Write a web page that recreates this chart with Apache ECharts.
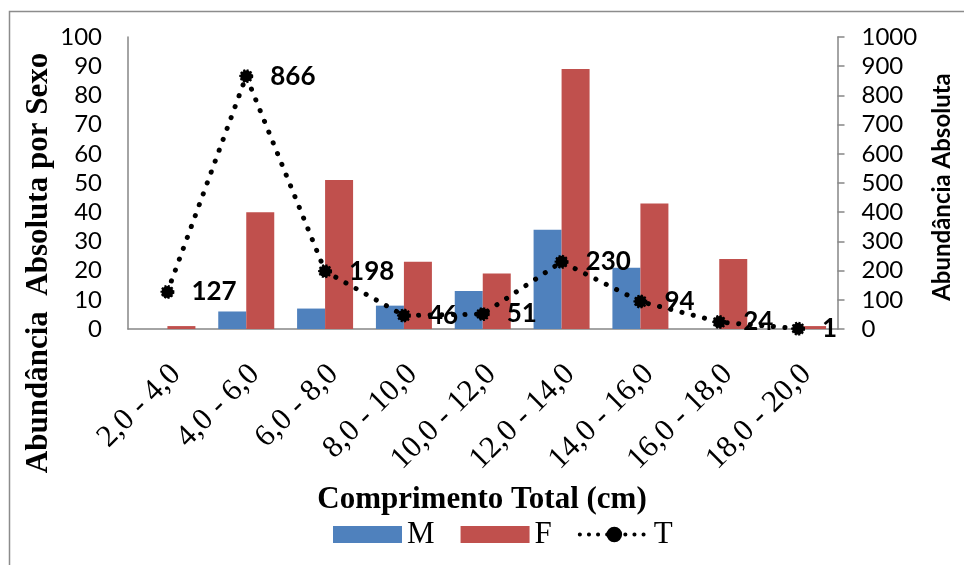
<!DOCTYPE html>
<html>
<head>
<meta charset="utf-8">
<script src="https://cdn.jsdelivr.net/npm/echarts@6/dist/echarts.min.js"></script>
<style>
  html, body { margin: 0; padding: 0; background: #fff; }
  #chart { width: 964px; height: 565px; }
</style>
</head>
<body>
<div id="chart"></div>
<script>
// Length classes (cm)
const categories = ['2,0 - 4,0', '4,0 - 6,0', '6,0 - 8,0', '8,0 - 10,0', '10,0 - 12,0',
                    '12,0 - 14,0', '14,0 - 16,0', '16,0 - 18,0', '18,0 - 20,0'];
// Absolute abundance by sex (left axis)
const machos = [0, 6, 7, 8, 13, 34, 21, 0, 0];
const femeas = [1, 40, 51, 23, 19, 89, 43, 24, 1];
// Total absolute abundance (right axis)
const total = [127, 866, 198, 46, 51, 230, 94, 24, 1];
// Axis tick values
const leftTicks = [0, 10, 20, 30, 40, 50, 60, 70, 80, 90, 100];
const rightTicks = [0, 100, 200, 300, 400, 500, 600, 700, 800, 900, 1000];

const serif = '"Liberation Serif", "Times New Roman", serif';
const sans = 'Lato, "Liberation Sans", sans-serif';
const axisGray = '#868686';
const dotted = { color: '#000', width: 5, type: [0.1, 11.5], cap: 'round' };

const chart = echarts.init(document.getElementById('chart'), null, { renderer: 'canvas' });

chart.setOption({
  backgroundColor: '#fff',
  animation: false,
  grid: { left: 128, right: 126.5, top: 37, bottom: 236, containLabel: false },
  legend: {
    left: 328,
    top: 514,
    itemWidth: 69,
    itemHeight: 17,
    itemGap: 26,
    textStyle: { fontFamily: serif, fontSize: 31, color: '#000' },
    data: [
      { name: 'M', icon: 'rect' },
      { name: 'F', icon: 'rect' },
      { name: 'T', lineStyle: { color: '#000', width: 4, type: [0.1, 9], cap: 'round' } }
    ]
  },
  xAxis: {
    type: 'category',
    data: categories,
    axisLine: { show: true, lineStyle: { color: axisGray, width: 1.5 } },
    axisTick: { show: false },
    axisLabel: {
      interval: 0,
      rotate: 45,
      margin: 32,
      verticalAlign: 'top',
      lineHeight: 24,
      fontFamily: serif,
      fontSize: 31,
      color: '#000'
    }
  },
  yAxis: [
    {
      type: 'value',
      min: leftTicks[0],
      max: leftTicks[leftTicks.length - 1],
      interval: leftTicks[1] - leftTicks[0],
      splitLine: { show: false },
      axisLine: { show: true, lineStyle: { color: axisGray, width: 1.5 } },
      axisTick: { show: false },
      axisLabel: { margin: 26, fontFamily: sans, fontSize: 24, color: '#000', formatter: v => String(v) }
    },
    {
      type: 'value',
      position: 'right',
      min: rightTicks[0],
      max: rightTicks[rightTicks.length - 1],
      interval: rightTicks[1] - rightTicks[0],
      splitLine: { show: false },
      axisLine: { show: true, lineStyle: { color: axisGray, width: 1.5 } },
      axisTick: { show: true, length: 7, lineStyle: { color: axisGray, width: 1.5 } },
      axisLabel: { margin: 24, fontFamily: sans, fontSize: 24, color: '#000', formatter: v => String(v) }
    }
  ],
  series: [
    {
      name: 'M',
      type: 'bar',
      yAxisIndex: 0,
      data: machos,
      barWidth: 28,
      barGap: '0%',
      itemStyle: { color: '#4F81BD' }
    },
    {
      name: 'F',
      type: 'bar',
      yAxisIndex: 0,
      data: femeas,
      barWidth: 28,
      barGap: '0%',
      itemStyle: { color: '#C0504D' }
    },
    {
      name: 'T',
      type: 'line',
      yAxisIndex: 1,
      data: total,
      z: 5,
      symbol: 'circle',
      symbolSize: 12,
      itemStyle: { color: '#000', borderColor: '#000', borderWidth: 2, borderType: [2, 1.5] },
      lineStyle: dotted,
      label: {
        show: true,
        position: 'right',
        distance: 17,
        fontFamily: sans,
        fontWeight: 'bold',
        fontSize: 26,
        color: '#000'
      }
    }
  ],
  graphic: [
    {
      type: 'rect',
      silent: true,
      shape: { x: 9.5, y: 11.5, width: 1200, height: 1200 },
      style: { fill: 'none', stroke: '#8c8c8c', lineWidth: 1.5 }
    },
    {
      type: 'text',
      x: 39, y: 263,
      rotation: Math.PI / 2,
      style: {
        text: 'Abundância  Absoluta por Sexo',
        font: 'bold 31px ' + serif,
        fill: '#000',
        align: 'center',
        verticalAlign: 'middle'
      }
    },
    {
      type: 'text',
      x: 942, y: 187,
      rotation: Math.PI / 2,
      style: {
        text: 'Abundância Absoluta',
        font: 'bold 24px ' + sans,
        fill: '#000',
        align: 'center',
        verticalAlign: 'middle'
      }
    },
    {
      type: 'text',
      x: 482, y: 500,
      style: {
        text: 'Comprimento Total (cm)',
        font: 'bold 31px ' + serif,
        fill: '#000',
        align: 'center',
        verticalAlign: 'middle'
      }
    }
  ]
});
</script>
</body>
</html>
